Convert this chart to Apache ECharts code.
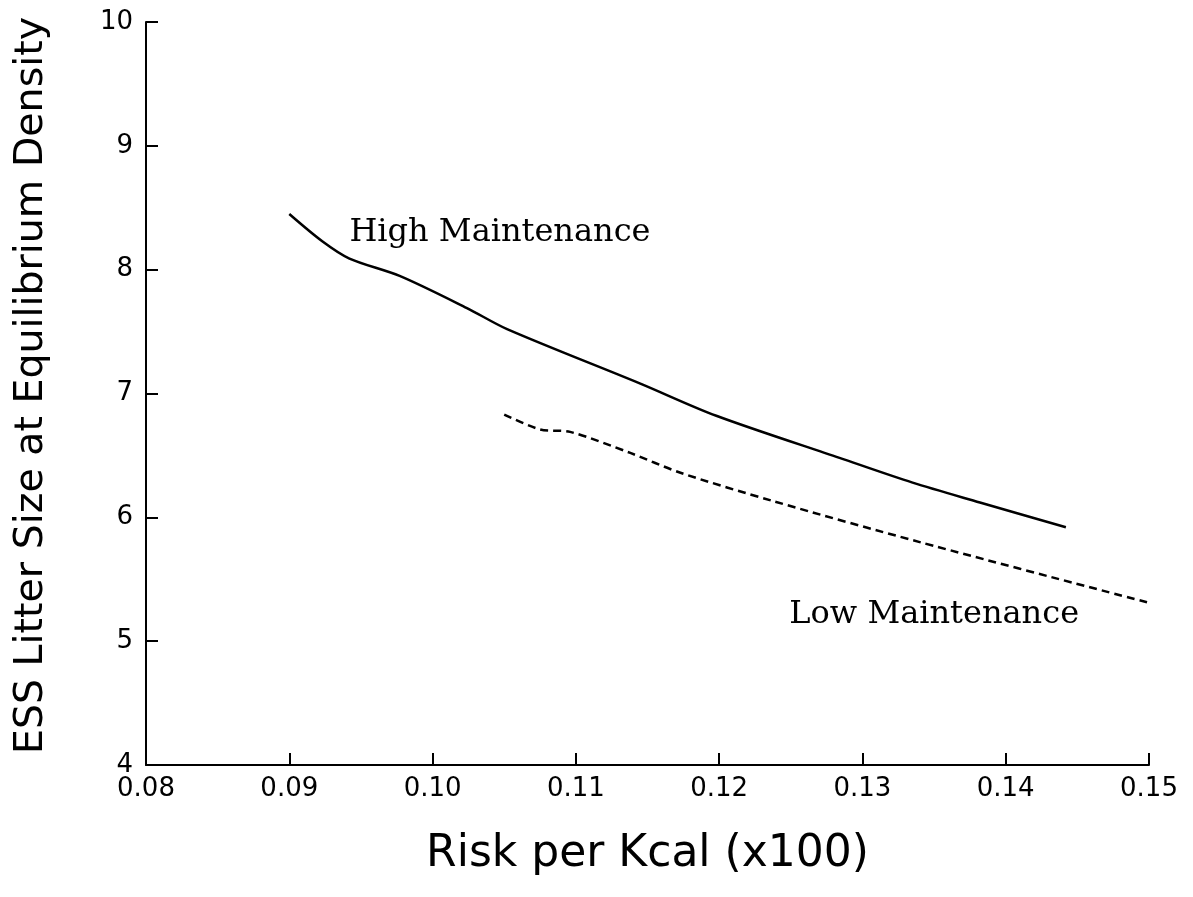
<!DOCTYPE html>
<html>
<head>
<meta charset="utf-8">
<title>ESS Litter Size vs Risk per Kcal</title>
<script src="https://cdn.jsdelivr.net/npm/echarts@6/dist/echarts.min.js"></script>
<style>
  html, body { margin: 0; padding: 0; background: #ffffff; }
  #chart { width: 1193px; height: 897px; }
</style>
</head>
<body>
<div id="chart"></div>
<script>
// Risk per Kcal (x100) and ESS litter size, high-maintenance curve
const highX = [0.0900, 0.0923, 0.0942, 0.0977, 0.1024, 0.1052, 0.1145, 0.1198, 0.1284, 0.1335, 0.1382, 0.1442];
const highY = [8.45, 8.23, 8.09, 7.95, 7.69, 7.52, 7.08, 6.82, 6.48, 6.28, 6.12, 5.92];

// Low-maintenance curve
const lowX = [0.1050, 0.1075, 0.1096, 0.1138, 0.1173, 0.1238, 0.1340, 0.1500];
const lowY = [6.83, 6.71, 6.69, 6.52, 6.36, 6.13, 5.80, 5.31];

// Curve labels and where they sit (data coordinates)
const highLabel = 'High Maintenance';
const highLabelAt = [0.0942, 8.30];
const lowLabel = 'Low Maintenance';
const lowLabelAt = [0.1249, 5.21];

// Axis titles
const xTitle = 'Risk per Kcal (x100)';
const yTitle = 'ESS Litter Size at Equilibrium Density';

const zip = (xs, ys) => xs.map((x, i) => [x, ys[i]]);

const sansFont = '"DejaVu Sans", sans-serif';
const serifFont = '"DejaVu Serif", serif';

const curveLabel = (text, at) => ({
  silent: true,
  symbol: 'circle',
  symbolSize: 0,
  data: [{
    coord: at,
    label: {
      show: true,
      formatter: text,
      position: 'right',
      distance: 0,
      color: '#000',
      fontFamily: serifFont,
      fontSize: 32
    }
  }]
});

const chart = echarts.init(document.getElementById('chart'), null, { renderer: 'canvas' });

chart.setOption({
  backgroundColor: '#ffffff',
  animation: false,
  grid: { left: 146, right: 44, top: 22, bottom: 132, containLabel: false },
  xAxis: {
    type: 'value',
    min: 0.08,
    max: 0.15,
    interval: 0.01,
    name: xTitle,
    nameLocation: 'middle',
    nameGap: 68,
    nameTextStyle: { color: '#000', fontFamily: sansFont, fontSize: 44 },
    axisLine: { show: true, onZero: false, lineStyle: { color: '#000', width: 2 } },
    axisTick: { show: true, inside: true, length: 12, lineStyle: { color: '#000', width: 2 } },
    axisLabel: {
      color: '#000',
      fontFamily: sansFont,
      fontSize: 26,
      margin: 11,
      formatter: v => v.toFixed(2)
    },
    splitLine: { show: false }
  },
  yAxis: {
    type: 'value',
    min: 4,
    max: 10,
    interval: 1,
    name: yTitle,
    nameLocation: 'middle',
    nameGap: 94,
    nameTextStyle: { color: '#000', fontFamily: sansFont, fontSize: 39.5, padding: [0, 0, 0, 16] },
    axisLine: { show: true, onZero: false, lineStyle: { color: '#000', width: 2 } },
    axisTick: { show: true, inside: true, length: 12, lineStyle: { color: '#000', width: 2 } },
    axisLabel: { color: '#000', fontFamily: sansFont, fontSize: 26, margin: 13 },
    splitLine: { show: false }
  },
  series: [
    {
      name: highLabel,
      type: 'line',
      data: zip(highX, highY),
      showSymbol: false,
      smooth: 0.3,
      lineStyle: { color: '#000', width: 2.5 },
      markPoint: curveLabel(highLabel, highLabelAt)
    },
    {
      name: lowLabel,
      type: 'line',
      data: zip(lowX, lowY),
      showSymbol: false,
      smooth: 0.3,
      lineStyle: { color: '#000', width: 2.5, type: [8, 5] },
      markPoint: curveLabel(lowLabel, lowLabelAt)
    }
  ]
});
</script>
</body>
</html>
